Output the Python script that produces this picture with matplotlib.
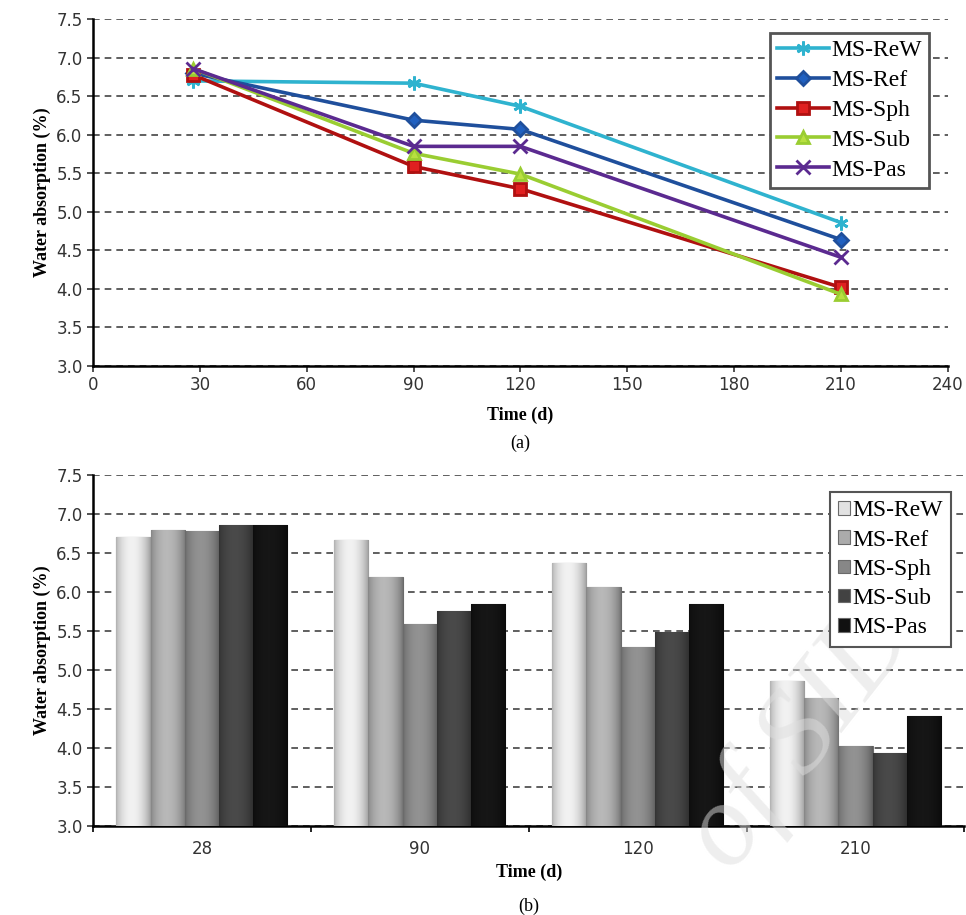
import numpy as np
from matplotlib import pyplot as plt
from matplotlib.colors import to_rgb

# data
days = [28, 90, 120, 210]
day_labels = ['28', '90', '120', '210']
series = ['MS-ReW', 'MS-Ref', 'MS-Sph', 'MS-Sub', 'MS-Pas']
rew = [6.70, 6.67, 6.37, 4.86]
ref = [6.80, 6.19, 6.07, 4.64]
sph = [6.78, 5.59, 5.30, 4.02]
sub = [6.86, 5.76, 5.49, 3.93]
pas = [6.86, 5.85, 5.85, 4.41]
values = [rew, ref, sph, sub, pas]

line_colors = ['#2fb3cf', '#1f4f9c', '#b01010', '#9acd32', '#5b2a90']
marker_faces = ['#2fb3cf', '#2060c0', '#e02020', '#b8e040', '#5b2a90']
markers = [(6, 2, 0), 'D', 's', '^', 'x']
marker_sizes = [10, 7, 9, 9, 10]
bar_colors = ['#e2e2e2', '#ababab', '#878787', '#424242', '#111111']

serif = ['Liberation Serif', 'DejaVu Serif']
tickfont = 'DejaVu Sans'

fig = plt.figure(figsize=(9.66, 9.15), dpi=100)

# ---------- (a) line chart ----------
ax1 = fig.add_axes([0.0963, 0.600, 0.885, 0.379])
for i, name in enumerate(series):
    ax1.plot(days, values[i], color=line_colors[i], lw=2.6, marker=markers[i],
             markersize=marker_sizes[i], markerfacecolor=marker_faces[i],
             markeredgecolor=line_colors[i], markeredgewidth=2, label=name, zorder=3)

ax1.set_xlim(0, 240)
ax1.set_ylim(3.0, 7.5)
ax1.set_xticks(np.arange(0, 241, 30))
ax1.set_yticks(np.arange(3.0, 7.51, 0.5))
ax1.set_yticklabels(['%.1f' % v for v in np.arange(3.0, 7.51, 0.5)])
ax1.yaxis.grid(True, ls=(0, (4, 3)), color='#444444', lw=1.2)
ax1.set_axisbelow(True)
for s in ['top', 'right']:
    ax1.spines[s].set_visible(False)
ax1.spines['left'].set_linewidth(1.8)
ax1.spines['bottom'].set_linewidth(1.8)
ax1.tick_params(axis='both', labelsize=12, length=4, width=1.2, colors='#333333')
for t in ax1.get_xticklabels() + ax1.get_yticklabels():
    t.set_family(tickfont)
ax1.set_xlabel('Time (d)', fontsize=13, fontweight='bold', family=serif, labelpad=9)
ax1.set_ylabel('Water absorption (%)', fontsize=13, fontweight='bold', family=serif)
ax1.text(0.5, -0.197, '(a)', transform=ax1.transAxes, ha='center', va='top',
         fontsize=13, family=serif)
leg1 = ax1.legend(loc='upper right', bbox_to_anchor=(0.992, 0.995), fancybox=False,
                  prop={'family': serif, 'size': 17}, handlelength=2.2,
                  handletextpad=0.1, borderpad=0.3, labelspacing=0.35, framealpha=1)
leg1.get_frame().set_edgecolor('#555555')
leg1.get_frame().set_linewidth(2)

# ---------- (b) bar chart ----------
ax2 = fig.add_axes([0.0963, 0.0973, 0.902, 0.3836])
x = np.arange(len(days))
w = 0.157
# cylinder-like shading across each bar
t = np.linspace(0, 1, 60)
profile = 0.78 + 0.32 * np.sin(np.pi * t) ** 0.7 - 0.10 * t
for i, name in enumerate(series):
    bars = ax2.bar(x + (i - 2) * w, np.array(values[i]) - 3.0, width=w, bottom=3.0,
                   color=bar_colors[i], edgecolor='#6a6a6a', linewidth=0.8,
                   label=name, zorder=3)
    base = np.array(to_rgb(bar_colors[i]))
    shade = np.clip(base[None, :] * profile[:, None] + 0.06 * (profile[:, None] - 0.78), 0, 1)
    img = shade[None, :, :]
    for b in bars:
        x0, y0 = b.get_x(), b.get_y()
        im = ax2.imshow(img, extent=[x0, x0 + b.get_width(), y0, y0 + b.get_height()],
                        aspect='auto', zorder=3.5, interpolation='bilinear')
        im.set_clip_path(b)

ax2.set_xlim(-0.5, 3.5)
ax2.set_ylim(3.0, 7.5)
ax2.set_xticks(x)
ax2.set_xticklabels(day_labels)
ax2.set_xticks(np.arange(-0.5, 3.6, 1), minor=True)
ax2.tick_params(axis='x', which='major', length=0, pad=10)
ax2.tick_params(axis='x', which='minor', length=4, width=1.2)
ax2.set_yticks(np.arange(3.0, 7.51, 0.5))
ax2.set_yticklabels(['%.1f' % v for v in np.arange(3.0, 7.51, 0.5)])
ax2.yaxis.grid(True, ls=(0, (4, 3)), color='#444444', lw=1.2)
ax2.set_axisbelow(True)
for s in ['top', 'right']:
    ax2.spines[s].set_visible(False)
ax2.spines['left'].set_linewidth(1.8)
ax2.spines['bottom'].set_linewidth(1.8)
ax2.tick_params(axis='both', labelsize=12, colors='#333333')
ax2.tick_params(axis='y', length=4, width=1.2)
for tl in ax2.get_xticklabels() + ax2.get_yticklabels():
    tl.set_family(tickfont)
ax2.set_xlabel('Time (d)', fontsize=13, fontweight='bold', family=serif, labelpad=4)
ax2.set_ylabel('Water absorption (%)', fontsize=13, fontweight='bold', family=serif)
ax2.text(0.5, -0.205, '(b)', transform=ax2.transAxes, ha='center', va='top',
         fontsize=13, family=serif)
leg2 = ax2.legend(loc='upper right', bbox_to_anchor=(0.998, 0.985), fancybox=False,
                  prop={'family': serif, 'size': 17}, handlelength=0.5,
                  handleheight=0.5, handletextpad=0.1, borderpad=0.35,
                  labelspacing=0.35, framealpha=1)
leg2.get_frame().set_edgecolor('#555555')
leg2.get_frame().set_linewidth(1.5)
leg2.set_zorder(6)

# faint watermark over the lower panel (under the legend)
ax2.text(0.83, 0.195, 'of SID', transform=fig.transFigure, rotation=52,
         fontsize=85, family=serif, style='italic', color='#dedede', alpha=0.5,
         ha='center', va='center', zorder=5, clip_on=False)

plt.savefig('out.png', dpi=100)
